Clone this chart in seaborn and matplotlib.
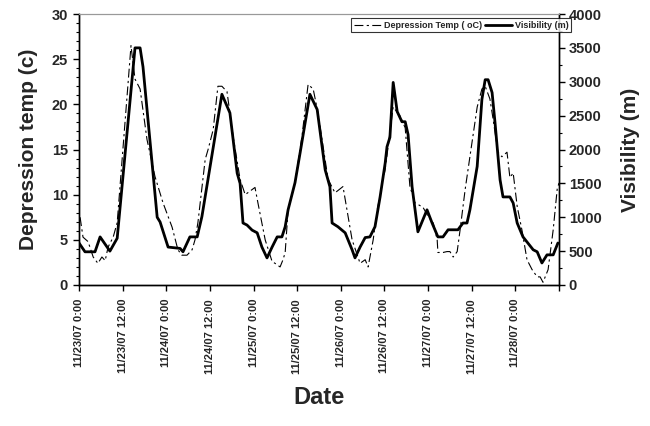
import matplotlib
matplotlib.use("Agg")
import matplotlib.pyplot as plt
import seaborn as sns
import pandas as pd
import numpy as np
from matplotlib.ticker import MultipleLocator

# ---- data (hours since 11/23/07 0:00) ----
vis_hours = [0, 1.65, 4.4, 5.8, 8.5, 10.5, 15.4, 16.8, 17.6, 21.5, 22.3, 24.5, 27.8, 28.6,
             30.5, 32.5, 33.8, 39.3, 41.5, 43.5, 44.3, 45.1, 46.2, 47.6, 49.0, 50.3, 51.7,
             53.1, 54.5, 55.8, 56.7, 57.5, 59.4, 60.8, 63.5, 65.5, 67.7, 69.0, 69.6, 71.2,
             73.2, 75.1, 75.9, 77.3, 78.7, 80.0, 81.4, 82.8, 84.2, 84.7, 85.5, 86.4, 87.5,
             88.8, 89.7, 90.5, 91.6, 93.2, 95.7, 97.1, 98.7, 100.1, 101.5, 104.2, 105.6,
             106.7, 107.5, 109.5, 110.8, 111.7, 112.5, 113.6, 114.4, 115.8, 116.6, 118.5,
             119.4, 120.5, 122.1, 124.9, 126.0, 127.3, 128.7, 130.4, 131.7]
visibility = [620, 490, 490, 710, 500, 690, 3500, 3500, 3220, 1000, 930, 560, 540, 490,
              710, 710, 1010, 2815, 2540, 1650, 1500, 915, 885, 810, 770, 560, 400,
              560, 710, 710, 860, 1110, 1510, 1950, 2815, 2590, 1700, 1450, 915, 860,
              770, 520, 400, 560, 700, 710, 860, 1300, 1800, 2040, 2180, 2990, 2560,
              2410, 2410, 2220, 1450, 785, 1110, 915, 710, 710, 815, 815, 915,
              915, 1110, 1750, 2740, 3030, 3030, 2840, 2400, 1550, 1300, 1300,
              1210, 915, 710, 520, 490, 325, 445, 445, 620]

temp_hours = [0.3, 1.1, 2.5, 3.9, 5.2, 6.3, 7.2, 8.0, 9.4, 10.5, 14.3, 15.4, 16.8, 18.7,
              20.9, 23.1, 25.6, 27.2, 28.3, 29.7, 31.1, 31.9, 32.7, 34.7, 35.5, 36.9, 38.2,
              39.3, 40.7, 42.4, 44.3, 45.7, 48.4, 49.2, 51.2, 53.1, 53.9, 55.3, 56.1, 56.7,
              57.5, 59.4, 61.3, 63.0, 64.4, 65.7, 68.5, 70.4, 72.6, 73.7, 75.1, 77.3, 78.7,
              79.5, 80.9, 82.0, 84.2, 86.4, 88.3, 89.7, 91.0, 92.4, 94.6, 96.0, 97.4, 98.5,
              98.7, 100.1, 101.2, 102.0, 102.9, 104.0, 104.8, 106.2, 107.5, 109.5, 110.8,
              111.7, 113.0, 113.9, 115.2, 116.3, 117.7, 118.5, 119.4, 120.5, 121.8, 123.2,
              124.6, 126.0, 126.8, 127.6, 129.0, 130.4, 131.5, 132.0]
dep_temp = [7.5, 5.3, 4.8, 3.1, 2.4, 3.1, 2.7, 4.2, 5.3, 6.9, 26.5, 22.8, 21.7, 16.1,
            12.0, 9.1, 6.4, 3.9, 3.3, 3.3, 3.9, 5.0, 6.9, 13.9, 15.0, 17.2, 22.0,
            22.0, 21.4, 16.4, 11.7, 10.0, 10.8, 9.1, 5.0, 2.6, 2.4, 2.0, 2.8, 3.6,
            8.3, 11.3, 16.4, 22.2, 21.7, 19.1, 11.7, 10.2, 10.9, 8.3, 5.0, 2.4, 2.8,
            2.0, 5.0, 8.3, 12.8, 19.7, 18.7, 17.4, 10.9, 9.1, 8.6, 7.6, 6.9, 5.0,
            3.6, 3.6, 3.7, 3.7, 3.1, 3.7, 6.1, 10.6, 14.2, 19.7, 21.7,
            22.0, 20.6, 18.3, 14.7, 14.2, 14.7, 11.9, 12.4, 8.7, 6.1, 2.8,
            1.7, 0.9, 0.9, 0.3, 1.7, 6.1, 10.6, 11.3]

tick_hours = [0, 12, 24, 36, 48, 60, 72, 84, 96, 108, 120, 132]
tick_labels = ["11/23/07 0:00", "11/23/07 12:00", "11/24/07 0:00", "11/24/07 12:00",
               "11/25/07 0:00", "11/25/07 12:00", "11/26/07 0:00", "11/26/07 12:00",
               "11/27/07 0:00", "11/27/07 12:00", "11/28/07 0:00", ""]

start = pd.Timestamp("2007-11-23 00:00")
vis_df = pd.DataFrame({"Date": start + pd.to_timedelta(vis_hours, unit="h"),
                       "Visibility (m)": visibility})
tmp_df = pd.DataFrame({"Date": start + pd.to_timedelta(temp_hours, unit="h"),
                       "Depression Temp ( oC)": dep_temp})

sns.set_style("ticks")
plt.rcParams['font.family'] = ['Liberation Sans', 'DejaVu Sans']
plt.rcParams['font.weight'] = 'bold'

fig = plt.figure(figsize=(6.5, 4.26), dpi=100)
ax = fig.add_axes([79/650, 1-285/426, (559-79)/650, (285-14)/426])
ax2 = ax.twinx()

sns.lineplot(data=tmp_df, x="Date", y="Depression Temp ( oC)", ax=ax, color="black",
             lw=0.8, linestyle=(0, (8, 3, 2, 3)), label="Depression Temp ( oC)", legend=False)
sns.lineplot(data=vis_df, x="Date", y="Visibility (m)", ax=ax2, color="black",
             lw=2.0, label="Visibility (m)", legend=False)

ax.set_xlim(start, start + pd.Timedelta(hours=132))
ax.set_ylim(0, 30)
ax2.set_ylim(0, 4000)
ax.yaxis.set_major_locator(MultipleLocator(5))
ax.yaxis.set_minor_locator(MultipleLocator(1))
ax2.yaxis.set_major_locator(MultipleLocator(500))
ax2.yaxis.set_minor_locator(MultipleLocator(250))

ticks = [start + pd.Timedelta(hours=h) for h in tick_hours]
ax.set_xticks(ticks)
ax.set_xticklabels(tick_labels, rotation=90, fontweight='bold')

for a in (ax, ax2):
    a.tick_params(axis='both', which='major', direction='out', length=4, width=1,
                  labelsize=10.5, color='black')
    a.tick_params(axis='y', which='minor', direction='out', length=2.5, width=0.8, color='black')
    for s in a.spines.values():
        s.set_visible(True)
        s.set_color('black')
        s.set_linewidth(1.0)
    a.spines['top'].set_color('#999999')
    a.spines['top'].set_linewidth(0.8)
ax.tick_params(axis='x', labelsize=8, pad=6)
ax.tick_params(axis='y', pad=4)
ax2.tick_params(axis='y', pad=3)
for lab in ax.get_yticklabels() + ax2.get_yticklabels() + ax.get_xticklabels():
    lab.set_fontweight('bold')

ax.set_xlabel("Date", fontsize=17, fontweight='bold', labelpad=9)
ax.set_ylabel("Depression temp (c)", fontsize=15, fontweight='bold', labelpad=10)
ax2.set_ylabel("Visibility (m)", fontsize=15, fontweight='bold', labelpad=14,
               rotation=90)

h1, l1 = ax.get_legend_handles_labels()
h2, l2 = ax2.get_legend_handles_labels()
leg = fig.legend(h1 + h2, l1 + l2, loc='upper left', bbox_to_anchor=(351/650, 1-18/426),
                 ncol=2, frameon=True, fancybox=False, fontsize=6.5, handlelength=3.0,
                 handletextpad=0.3, columnspacing=0.4, borderpad=0.3, borderaxespad=0)
leg.get_frame().set_edgecolor('black')
leg.get_frame().set_linewidth(0.8)
for t in leg.get_texts():
    t.set_fontweight('bold')

fig.savefig("out.png", dpi=100)
